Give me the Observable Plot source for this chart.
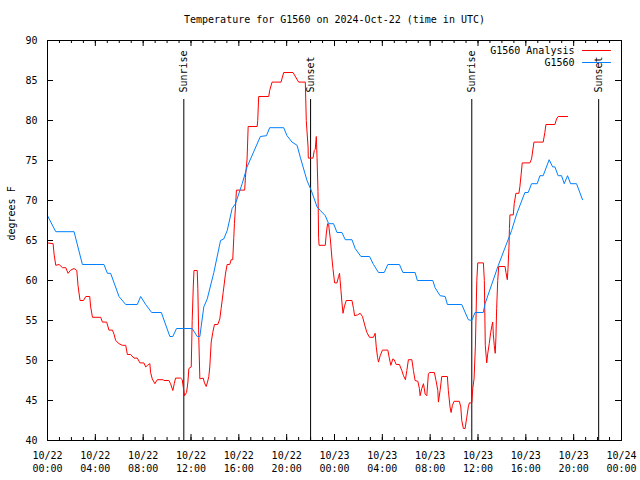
<!DOCTYPE html>
<html>
<head>
<meta charset="utf-8">
<script src="https://cdn.jsdelivr.net/npm/d3@7"></script>
<script src="https://cdn.jsdelivr.net/npm/@observablehq/plot@0.6"></script>
<style>
  html, body { margin: 0; padding: 0; background: #fff; }
  svg { display: block; }
</style>
</head>
<body>
<div id="chart"></div>
<script>
// ---- Data (hours since 2024-10-22 00:00 UTC, temperature °F) ----
const startUTC = Date.UTC(2024, 9, 22);
const endUTC = Date.UTC(2024, 9, 24);

const titleText = "Temperature for G1560 on 2024-Oct-22 (time in UTC)";
const yLabel = "degrees F";
const legendNames = ["G1560 Analysis", "G1560"];
const legendColors = ["#ff0000", "#0080ff"];

const redHours = [
  0, 0.47, 0.55, 0.69, 0.97, 1.25, 1.53, 1.72, 1.94, 2.22,
  2.45, 2.55, 2.72, 3.01, 3.20, 3.53, 3.61, 3.76, 4.45, 4.59,
  4.95, 5.14, 5.43, 5.56, 5.70, 5.98, 6.26, 6.54, 6.68, 6.95,
  7.23, 7.51, 7.73, 8.06, 8.21, 8.37, 8.56, 8.62, 8.76, 8.98,
  9.18, 9.68, 9.73, 10.15, 10.29, 10.48, 10.60, 10.71, 11.13, 11.27,
  11.35, 11.46, 11.63, 11.74, 11.82, 12.02, 12.10, 12.19, 12.25, 12.52,
  12.57, 12.65, 12.74, 13.02, 13.13, 13.27, 13.38, 13.49, 13.57, 13.69,
  13.82, 13.96, 14.24, 14.41, 14.52, 14.69, 14.88, 15.02, 15.24, 15.36,
  15.49, 15.58, 15.63, 15.72, 15.80, 16.49, 16.55, 16.69, 16.78, 17.53,
  17.58, 17.66, 18.50, 18.58, 18.78, 19.53, 19.75, 20.53, 21.00, 21.56,
  21.64, 21.79, 21.81, 22.20, 22.31, 22.39, 22.48, 22.54, 22.62, 22.67,
  22.71, 23.23, 23.31, 23.42, 23.51, 23.65, 23.79, 23.87, 24.01, 24.21,
  24.34, 24.42, 24.54, 24.62, 24.71, 24.82, 24.98, 25.46, 25.59, 25.68,
  25.93, 26.15, 26.34, 26.57, 26.71, 26.93, 27.26, 27.40, 27.49, 27.60,
  27.68, 27.82, 28.01, 28.46, 28.57, 28.71, 28.88, 28.99, 29.16, 29.43,
  29.63, 29.77, 29.93, 30.05, 30.18, 30.47, 30.60, 30.74, 30.97, 31.10,
  31.16, 31.30, 31.44, 31.58, 31.72, 31.85, 31.94, 32.35, 32.49, 32.64,
  32.69, 32.83, 32.97, 33.44, 33.52, 33.66, 33.75, 33.86, 34.00, 34.44,
  34.56, 34.64, 34.78, 34.92, 35.06, 35.19, 35.28, 35.48, 35.56, 35.67,
  35.78, 35.90, 35.98, 36.45, 36.53, 36.61, 36.73, 36.81, 36.94, 37.06,
  37.17, 37.23, 37.28, 37.36, 37.44, 37.50, 37.56, 37.65, 37.73, 38.26,
  38.34, 38.45, 38.51, 38.59, 38.63, 38.67, 38.95, 39.03, 39.17, 39.42,
  39.50, 39.61, 39.70, 40.34, 40.48, 40.68, 41.45, 41.59, 41.68, 42.43,
  42.57, 42.70, 43.49
];
const redTemps = [
  64.7, 64.6, 63.3, 61.9, 62.0, 61.6, 61.6, 60.9, 61.3, 61.5,
  61.25, 59.4, 57.5, 57.5, 58.0, 58.0, 56.7, 55.4, 55.4, 54.8,
  54.8, 53.8, 53.8, 53.3, 52.5, 52.1, 51.9, 51.9, 50.75, 50.75,
  50.3, 50.3, 49.7, 49.7, 49.2, 49.4, 49.6, 48.5, 47.7, 47.1,
  47.6, 47.6, 47.5, 47.5, 47.1, 46.25, 47.1, 47.8, 47.8, 47.6,
  46.7, 45.6, 46.0, 47.3, 49.0, 49.2, 55, 59.2, 61.25, 61.25,
  59, 52.9, 47.7, 47.8, 47.2, 46.75, 47.3, 48, 49.2, 52.3,
  53.5, 54.5, 54.5, 55.2, 56.5, 58.5, 60.8, 62, 62, 62.6,
  62.6, 65.4, 67.1, 69.2, 71.3, 71.3, 72.9, 75.2, 79.25, 79.25,
  80, 83, 83, 83.75, 84.8, 84.8, 86.0, 86.0, 84.8, 84.8,
  80, 76.7, 75.3, 75.3, 76.25, 76.4, 78, 75.4, 71.1, 65.4,
  64.4, 64.4, 65.8, 67.1, 67.0, 65.2, 62.7, 61.5, 59.7, 59.7,
  60.5, 60.9, 58.75, 57.3, 55.9, 56.7, 57.5, 57.5, 56.5, 55.6,
  55.7, 55.9, 55.5, 54.2, 53.5, 52.9, 52.9, 53.4, 51.7, 50.4,
  49.8, 50.6, 51.3, 51.3, 50.4, 49.4, 50.2, 50.1, 49.5, 49.5,
  48.75, 48.1, 47.6, 48.75, 50.1, 50.1, 48.75, 47.5, 47.4, 46.5,
  45.6, 46.5, 47.1, 45.8, 45.6, 48.3, 48.5, 48.5, 47.5, 46.25,
  44.8, 46.25, 48, 48, 46.25, 44.2, 43.5, 44.4, 44.9, 44.9,
  44.2, 42.5, 41.5, 41.5, 42.9, 44.2, 44.7, 44.7, 46.5, 47.7,
  51.7, 60, 62.2, 62.2, 60, 51.9, 49.7, 50.8, 52.1, 53.5,
  54.4, 54.8, 53.3, 51.9, 50.9, 52.9, 56.5, 60, 61.75, 61.75,
  61, 60.1, 61.5, 64.2, 66.5, 68.2, 68.2, 69.6, 70.9, 70.9,
  71.7, 73.3, 74.7, 74.7, 75.2, 77.3, 77.3, 78.5, 79.5, 79.5,
  80.2, 80.5, 80.5
];

const blueHours = [
  0, 0.69, 2.22, 2.92, 4.72, 5.01, 5.28, 5.98, 6.54, 7.51,
  7.79, 8.21, 8.71, 9.52, 10.23, 10.48, 10.79, 12.10, 12.52, 12.74,
  13.07, 13.36, 13.91, 14.47, 14.74, 15.03, 15.44, 15.72, 16.28, 16.69,
  17.80, 18.31, 18.58, 19.75, 20.03, 20.45, 20.87, 21.14, 21.70, 22.06,
  22.54, 22.82, 23.23, 23.51, 23.92, 24.21, 24.62, 24.90, 25.46, 25.73,
  26.21, 26.93, 27.26, 27.68, 28.16, 28.46, 29.43, 29.72, 30.74, 30.93,
  32.22, 32.41, 32.83, 33.25, 33.44, 34.64, 35.19, 35.48, 35.75, 36.44,
  36.59, 37.70, 38.81, 39.23, 39.92, 40.20, 40.48, 40.95, 41.18, 41.45,
  41.95, 42.24, 42.43, 42.70, 42.99, 43.21, 43.49, 43.74, 44.24, 44.74
];
const blueTemps = [
  68.1, 66.1, 66.1, 62.0, 62.0, 60.9, 60.9, 58, 57, 57,
  58, 57, 56, 56, 53, 53, 54, 54, 53, 53,
  56.7, 57.7, 61, 65, 65.2, 66.25, 69, 69.6, 72.1, 74.2,
  78, 78.1, 79.1, 79.1, 78.1, 77.3, 76.9, 75.4, 72.5, 71.25,
  69.2, 68.75, 68.1, 67.1, 67.1, 66.0, 66.0, 65.1, 65.1, 64,
  63, 63, 62, 61, 61, 62, 62, 61, 61, 60,
  60, 59.1, 58.1, 58, 57, 57, 55.1, 55, 56, 56,
  57.1, 61.9, 66.25, 68.3, 71.0, 71.0, 72.1, 72.1, 73.1, 73.1,
  75.1, 74.2, 74.2, 73.1, 73.1, 72.1, 73.1, 72.1, 72.1, 70.1
];

const sunHours = [11.40, 22.00, 35.48, 46.09];
const sunLabels = ["Sunrise", "Sunset", "Sunrise", "Sunset"];

const yTicks = [40, 45, 50, 55, 60, 65, 70, 75, 80, 85, 90];

// ---- Build tables ----
const toDate = h => new Date(startUTC + h * 3600e3);
const analysis = redHours.map((h, i) => ({time: toDate(h), temp: redTemps[i]}));
const observed = blueHours.map((h, i) => ({time: toDate(h), temp: blueTemps[i]}));
const sun = sunHours.map((h, i) => ({time: toDate(h), label: sunLabels[i]}));
const majorTicks = d3.utcHour.every(4).range(new Date(startUTC), new Date(endUTC + 1));
const minorTicks = d3.utcHour.range(new Date(startUTC), new Date(endUTC + 1));

// ---- Layout ----
const W = 640, H = 480, mL = 47, mR = 19, mT = 40, mB = 40;
const fw = W - mL - mR, fh = H - mT - mB;
const font = "DejaVu Sans Mono";
const segShape = {draw(context, l) { context.moveTo(0, 0); context.lineTo(0, -l); }};

const legendMarks = legendNames.flatMap((name, i) => [
  Plot.text([name], {text: d => d, frameAnchor: "top-right", dx: -47, dy: 10 + 12 * i, textAnchor: "end", lineAnchor: "middle", fill: "black"}),
  Plot.vector([name], {frameAnchor: "top-right", dx: -39, dy: 10 + 12 * i, rotate: 90, length: 28, anchor: "start", shape: segShape, stroke: legendColors[i], strokeWidth: 1})
]);

const chart = Plot.plot({
  width: W, height: H,
  marginLeft: mL, marginRight: mR, marginTop: mT, marginBottom: mB,
  style: {fontFamily: font, fontSize: "10px", color: "black", background: "white", overflow: "visible"},
  x: {type: "utc", domain: [new Date(startUTC), new Date(endUTC)]},
  y: {domain: [40, 90]},
  marks: [
    // inward ticks (gnuplot style, mirrored)
    Plot.ruleX(minorTicks, {insetTop: fh - 3, stroke: "black"}),
    Plot.ruleX(minorTicks, {insetBottom: fh - 3, stroke: "black"}),
    Plot.ruleX(majorTicks, {insetTop: fh - 6, stroke: "black"}),
    Plot.ruleX(majorTicks, {insetBottom: fh - 6, stroke: "black"}),
    Plot.ruleY(yTicks, {insetRight: fw - 6, stroke: "black"}),
    Plot.ruleY(yTicks, {insetLeft: fw - 6, stroke: "black"}),
    Plot.axisX(majorTicks, {tickSize: 0, tickPadding: 10, tickFormat: d3.utcFormat("%m/%d\n%H:%M"), lineHeight: 1.25, label: null}),
    Plot.axisY(yTicks, {tickSize: 0, tickPadding: 10, label: null}),
    // sunrise / sunset
    Plot.ruleX(sun, {x: "time", insetTop: 59, stroke: "black"}),
    Plot.text(sun, {x: "time", text: "label", frameAnchor: "top", dy: 52, rotate: -90, textAnchor: "start", lineAnchor: "middle", fill: "black"}),
    // series
    Plot.line(analysis, {x: "time", y: "temp", stroke: legendColors[0], strokeWidth: 1}),
    Plot.line(observed, {x: "time", y: "temp", stroke: legendColors[1], strokeWidth: 1}),
    Plot.frame({stroke: "black"}),
    // title & y label
    Plot.text([titleText], {text: d => d, frameAnchor: "top", dy: -21, lineAnchor: "middle", fill: "black"}),
    Plot.text([yLabel], {text: d => d, frameAnchor: "left", dx: -36, rotate: -90, lineAnchor: "middle", fill: "black"}),
    ...legendMarks
  ]
});
document.getElementById("chart").appendChild(chart);
</script>
</body>
</html>
